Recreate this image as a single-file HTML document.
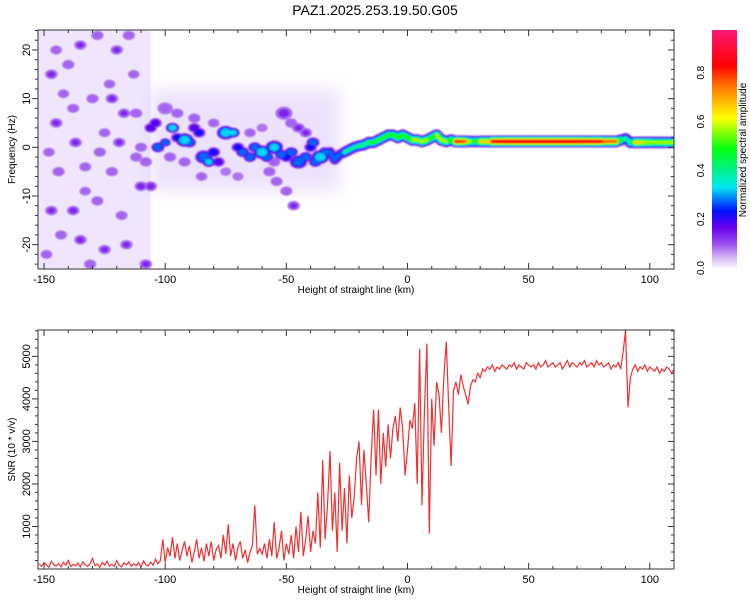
<!DOCTYPE html>
<html><head><meta charset="utf-8"><style>
html,body{margin:0;padding:0;background:#fff;}
svg{display:block;font-family:"Liberation Sans",sans-serif;}
</style></head><body>
<svg id="chart" width="750" height="600" viewBox="0 0 750 600">
<defs>
<clipPath id="clipTop"><rect x="38" y="30" width="636" height="239"/></clipPath>
<clipPath id="clipBot"><rect x="38" y="330" width="636" height="239"/></clipPath>
<filter id="soft" x="-5%" y="-5%" width="110%" height="110%"><feGaussianBlur stdDeviation="0.8"/></filter>
<filter id="haze" x="-20%" y="-20%" width="140%" height="140%"><feGaussianBlur stdDeviation="8"/></filter>
<linearGradient id="cbGrad" x1="0" y1="1" x2="0" y2="0">
<stop offset="0" stop-color="#f8f4fd"/><stop offset="0.04" stop-color="#d8c0f4"/>
<stop offset="0.1" stop-color="#9a50ee"/><stop offset="0.17" stop-color="#6a00f0"/>
<stop offset="0.24" stop-color="#0010ff"/><stop offset="0.34" stop-color="#00e8f0"/>
<stop offset="0.5" stop-color="#00ff10"/><stop offset="0.63" stop-color="#ffff00"/>
<stop offset="0.76" stop-color="#ff7a00"/><stop offset="0.85" stop-color="#ff0000"/>
<stop offset="1" stop-color="#ff1878"/>
</linearGradient>
</defs>
<text x="375" y="15" text-anchor="middle" font-size="14">PAZ1.2025.253.19.50.G05</text>
<g id="topPanel"></g>
<g id="botPanel"></g>
<g id="cb"></g>
</svg>
<script>
// ---------- data ----------
const xDomain = [-152.5, 110];
const freqDomain = [-25, 24.1];
const snrDomain = [0, 5620];
const xTicks = [-150, -100, -50, 0, 50, 100];
const freqTicks = [-20, -10, 0, 10, 20];
const snrTicks = [1000, 2000, 3000, 4000, 5000];
const cbTicks = [0.0, 0.2, 0.4, 0.6, 0.8];

// ridge track: [height km, frequency Hz, normalized amplitude]
const ridgeTrack = [[-32,-1,0.3],[-30,-2.5,0.35],[-28,-1.5,0.3],[-26,-1,0.4],[-24,-0.5,0.45],[-22,0,0.4],[-20,0.3,0.5],[-18,0.5,0.45],[-16,1,0.55],[-14,1,0.5],[-12,1.5,0.55],[-10,2,0.5],[-8,2.5,0.5],[-6,2.5,0.55],[-4,2,0.6],[-2,2.5,0.55],[0,2,0.55],[2,1.5,0.75],[4,1.5,0.6],[6,1.2,0.85],[8,1.5,0.6],[10,2,0.55],[12,2.5,0.6],[14,1.5,0.85],[16,1.2,0.6],[18,1.5,0.55],[20,1.2,0.85],[22,1.2,0.9],[24,1.2,0.8],[26,1.2,0.6],[28,1.2,0.55],[30,1.2,0.7],[35,1.2,0.9],[40,1.2,0.92],[50,1.2,0.92],[60,1.2,0.92],[70,1.2,0.92],[80,1.2,0.9],[86,1.2,0.8],[88,1.5,0.55],[90,1.8,0.4],[92,1,0.5],[94,1,0.85],[96,1,0.7],[100,1,0.65],[105,1,0.6],[110,1,0.6]];

// scattered spectral blobs: [height km, frequency Hz, amplitude, radius px]
const ridgeBlobs = [[-104,5,0.2,3],[-103,0,0.3,3],[-100,1,0.3,2.5],[-97,4,0.35,3],[-95,2,0.22,3],[-92,1.5,0.35,4],[-90,1,0.3,3],[-88,4,0.2,3],[-86,3,0.22,3],[-84,-2,0.3,4],[-82,-3,0.32,3],[-80,-1,0.25,3],[-78,-3,0.2,3],[-75,3,0.35,4],[-72,3,0.32,3],[-70,0,0.22,3],[-68,-1,0.3,3],[-65,-2,0.28,3],[-63,0,0.3,3],[-60,-1,0.35,4],[-58,-2,0.3,3],[-55,0,0.32,4],[-52,-1.5,0.3,3],[-50,-2,0.25,3],[-48,-1,0.3,3],[-45,-3,0.3,4],[-42,-2,0.3,3],[-40,0,0.22,3],[-38,-3,0.3,3],[-36,-2,0.35,4],[-34,-1,0.3,3],
[-51,7,0.18,4],[-48,5,0.15,3],[-45,4,0.17,3],[-42,3,0.16,3],[-39,1,0.28,3],
[-57,-5,0.15,3],[-54,-7,0.14,3],[-50,-9,0.14,3],[-47,-12,0.16,3],
[-100,8,0.12,4],[-95,7,0.15,3],[-88,6,0.15,3],[-80,5,0.12,3],[-85,-6,0.12,3],[-75,-5,0.1,3],[-65,3,0.12,3],[-60,4,0.1,3],[-70,-6,0.1,3],[-55,-3,0.15,3],[-92,-3,0.15,3],[-98,-2,0.15,3],[-106,-8,0.18,3],[-106,4,0.2,3]];
const noiseBlobs = [[-147,15,0.17,3],[-140,17,0.15,3],[-135,21,0.16,3],[-128,23,0.15,3],[-120,20,0.16,3],[-115,23,0.15,3],[-145,5,0.17,3],[-138,8,0.14,3],[-130,10,0.15,3],[-122,10,0.17,3],[-117,7,0.16,3],[-112,7,0.15,3],[-148,-1,0.13,3],[-137,1,0.17,3],[-127,-1,0.15,3],[-119,1,0.16,3],[-112,-2,0.14,3],[-144,-5,0.15,3],[-133,-4,0.14,3],[-122,-5,0.15,3],[-110,-8,0.18,3],[-147,-13,0.16,3],[-138,-13,0.17,3],[-128,-11,0.15,3],[-118,-14,0.14,3],[-143,-18,0.14,3],[-135,-19,0.17,3],[-125,-21,0.16,3],[-116,-20,0.16,3],[-108,-24,0.17,3],[-149,-22,0.13,3],[-131,-24,0.15,3],[-123,13,0.12,3],[-142,11,0.12,3],[-113,15,0.12,3],[-125,3,0.13,3],[-133,-9,0.12,3],[-145,20,0.13,3],[-110,0,0.14,3],[-108,-3,0.15,3]];

// SNR (10*v/v), one sample per km starting at snrStart
const snrStart = -152;
const snrValues = [120,60,150,90,40,180,100,70,130,50,160,90,200,60,110,80,140,50,170,100,60,130,250,80,120,40,150,90,180,70,110,60,200,90,50,140,100,170,60,120,80,150,40,190,100,70,160,90,230,120,
200,700,150,500,300,750,250,600,200,450,650,300,550,150,400,700,250,500,180,600,300,650,200,450,550,250,800,350,1050,300,600,200,500,650,250,450,150,400,550,1500,350,480,
350,600,250,700,300,1100,250,500,900,200,600,350,800,250,1000,400,1350,300,700,1250,400,900,600,1800,500,2560,700,1500,2770,900,
1800,400,2500,900,1900,600,2200,1200,1700,2600,3000,1500,2800,2000,1100,2600,3750,2200,3750,2000,3200,2400,3400,2600,3300,3600,3000,3800,3300,2200,
2800,3500,3300,3900,2000,5180,1500,3700,5300,830,4000,2900,4400,4100,3200,4500,5350,3800,2420,4200,4400,4100,4570,4300,4100,3870,4300,4450,4400,4600,4500,
4700,4650,4750,4700,4800,4650,4750,4700,4800,4750,
4700,4800,4750,4850,4700,4800,4750,4700,4850,4800,
4750,4800,4700,4850,4750,4800,4900,4750,4800,4850,
4750,4800,4850,4700,4800,4900,4750,4850,4800,4750,
4850,4800,4900,4750,4800,4850,4750,4900,4800,4850,
4750,4800,4850,4700,4800,4750,4850,4700,5100,5600,
3800,4500,4700,4800,4650,4750,4700,4800,4650,4750,
4700,4650,4750,4600,4700,4650,4750,4700,4600,4700];

// ---------- helpers ----------
const NS = "http://www.w3.org/2000/svg";
const L = 38, R = 674, TT = 30, TB = 269, BT = 330, BB = 569;
const sx = h => L + (h - xDomain[0]) / (xDomain[1] - xDomain[0]) * (R - L);
const sfy = f => TB - (f - freqDomain[0]) / (freqDomain[1] - freqDomain[0]) * (TB - TT);
const ssy = v => BB - (v - snrDomain[0]) / (snrDomain[1] - snrDomain[0]) * (BB - BT);
const cbTop = 30, cbBot = 268, cbMax = 0.975;
const scb = v => cbBot - v / cbMax * (cbBot - cbTop);
function mk(tag, attrs, parent) {
  const e = document.createElementNS(NS, tag);
  for (const k in attrs) e.setAttribute(k, attrs[k]);
  parent.appendChild(e); return e;
}
const stops = [[0,[248,244,253]],[0.04,[216,192,244]],[0.1,[154,80,238]],[0.17,[106,0,240]],[0.24,[0,16,255]],[0.34,[0,232,240]],[0.5,[0,255,16]],[0.63,[255,255,0]],[0.76,[255,122,0]],[0.85,[255,0,0]],[1,[255,24,120]]];
function cmap(v) {
  for (let i = 1; i < stops.length; i++) {
    if (v <= stops[i][0]) {
      const a = stops[i-1], b = stops[i], t = (v - a[0]) / (b[0] - a[0]);
      return "rgb(" + a[1].map((c, j) => Math.round(c + (b[1][j] - c) * t)).join(",") + ")";
    }
  }
  return "rgb(255,24,120)";
}
const levels = [0.05, 0.1, 0.15, 0.2, 0.25, 0.3, 0.38, 0.46, 0.55, 0.65, 0.75, 0.83];

// ---------- top panel ----------
const topG = document.getElementById("topPanel");
const hazeG = mk("g", {"clip-path": "url(#clipTop)"}, topG);


const midHaze = mk("rect", {x: sx(-106), y: sfy(12), width: sx(-28) - sx(-106), height: sfy(-9) - sfy(12), fill: "rgba(214,190,248,0.45)", filter: "url(#haze)"}, hazeG);


const heat = mk("g", {"clip-path": "url(#clipTop)", filter: "url(#soft)"}, topG);


const haze = mk("rect", {x: sx(-152.5), y: TT, width: sx(-106) - sx(-152.5), height: TB - TT, fill: "rgba(214,190,248,0.38)"}, heat);


const blobs = noiseBlobs.concat(ridgeBlobs);
levels.forEach(lv => {
  blobs.forEach(b => {
    if (b[2] <= lv) return;
    const rad = b[3] * 0.85 * (1 + 1.3 * (b[2] - lv) / b[2]);
    const col = b[2] < 0.2 && lv >= 0.1 ? cmap(lv - 0.01) : cmap(lv + 0.03);
    const e = mk("ellipse", {cx: sx(b[0]), cy: sfy(b[1]), rx: rad * 1.3, ry: rad, fill: col}, heat);
    
    
  });
  for (let i = 1; i < ridgeTrack.length; i++) {
    const a = ridgeTrack[i-1], b = ridgeTrack[i];
    const amp = Math.min(a[2], b[2]);
    if (amp <= lv) continue;
    const w = 2 + 11 * (1 - lv / amp);
    const s = mk("line", {x1: sx(a[0]), y1: sfy(a[1]), x2: sx(b[0]), y2: sfy(b[1]), stroke: cmap(lv + 0.03), "stroke-width": w, "stroke-linecap": "round"}, heat);
    
    
  }
});

function axes(g, yT, yB, yTicksArr, yScale, minorStep, yMinorRange, xLabel, yLabel) {
  const fr = mk("rect", {x: L, y: yT, width: R - L, height: yB - yT, fill: "none", stroke: "#333", "stroke-width": 1}, g);
  
  
  for (let h = -150; h <= 110; h += 10) {
    const big = h % 50 === 0, x = sx(h), len = big ? 6 : 3;
    mk("line", {x1: x, y1: yB, x2: x, y2: yB - len, stroke: "#333"}, g);
    mk("line", {x1: x, y1: yT, x2: x, y2: yT + len, stroke: "#333"}, g);
  }
  xTicks.forEach(t => {
    const tx = mk("text", {x: sx(t), y: yB + 14, "text-anchor": "middle", "font-size": 11}, g);
    tx.textContent = t;
    
    
  });
  for (let v = yMinorRange[0]; v <= yMinorRange[1]; v += minorStep) {
    const y = yScale(v); if (y < yT || y > yB) continue;
    const big = yTicksArr.includes(v), len = big ? 6 : 3;
    mk("line", {x1: L, y1: y, x2: L - len, y2: y, stroke: "#333"}, g);
    mk("line", {x1: R, y1: y, x2: R - len, y2: y, stroke: "#333"}, g);
  }
  yTicksArr.forEach(t => {
    const y = yScale(t);
    const tx = mk("text", {x: 0, y: 0, "text-anchor": "middle", "font-size": 11, transform: `translate(${L - 8},${y}) rotate(-90)`}, g);
    tx.textContent = t;
    
    
  });
  const xl = mk("text", {x: 356, y: yB + 24, "text-anchor": "middle", "font-size": 10}, g);
  xl.textContent = xLabel;
  
  
  const yl = mk("text", {x: 0, y: 0, "text-anchor": "middle", "font-size": 10, transform: `translate(15,${(yT + yB) / 2}) rotate(-90)`}, g);
  yl.textContent = yLabel;
  
  
}
axes(topG, TT, TB, freqTicks, sfy, 2, [-24, 24], "Height of straight line (km)", "Frequency (Hz)");

// ---------- bottom panel ----------
const botG = document.getElementById("botPanel");
const pts = snrValues.map((v, i) => sx(snrStart + i).toFixed(1) + "," + ssy(v).toFixed(1)).join(" ");
const line = mk("polyline", {points: pts, fill: "none", stroke: "#f03030", "stroke-width": 1.2, "clip-path": "url(#clipBot)"}, botG);


axes(botG, BT, BB, snrTicks, ssy, 200, [200, 5600], "Height of straight line (km)", "SNR (10 * v/v)");

// ---------- colorbar ----------
const cb = document.getElementById("cb");
const bar = mk("rect", {x: 712, y: cbTop, width: 25, height: cbBot - cbTop, fill: "url(#cbGrad)"}, cb);


cbTicks.forEach(t => {
  const tx = mk("text", {x: 0, y: 0, "text-anchor": "middle", "font-size": 10, transform: `translate(704,${scb(t)}) rotate(-90)`}, cb);
  tx.textContent = t.toFixed(1);
  
  
});
const cbt = mk("text", {x: 0, y: 0, "text-anchor": "middle", "font-size": 10, transform: `translate(746,150) rotate(-90)`}, cb);
cbt.textContent = "Normalized spectral amplitude";


</script>
</body></html>
